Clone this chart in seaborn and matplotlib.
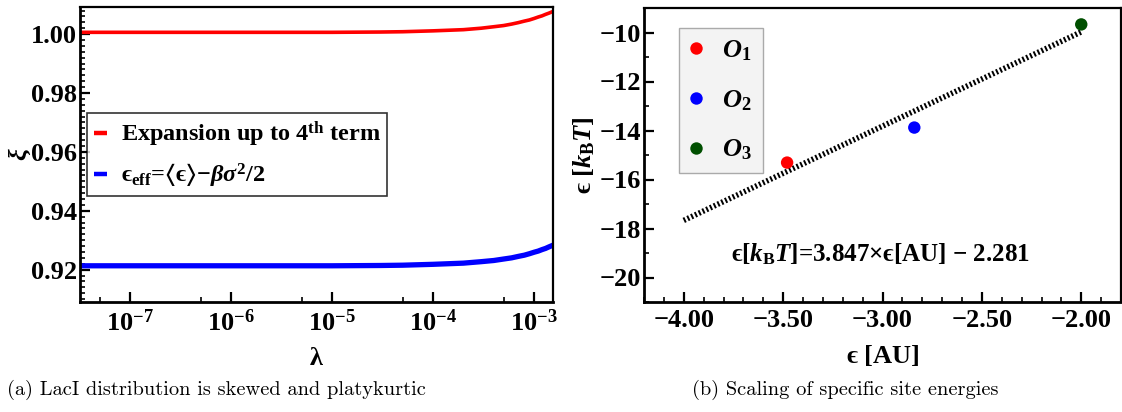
import matplotlib
matplotlib.use("Agg")
import numpy as np
import pandas as pd
import matplotlib.pyplot as plt
import seaborn as sns
from matplotlib.lines import Line2D
from matplotlib.ticker import (FixedLocator, MultipleLocator, NullFormatter,
                               FuncFormatter, LogFormatterSciNotation)

sns.set_theme(style="ticks")
plt.rcParams['font.family'] = ['Liberation Serif', 'DejaVu Serif']
plt.rcParams['font.weight'] = 'bold'
plt.rcParams['axes.labelweight'] = 'bold'
plt.rcParams['text.color'] = 'black'
plt.rcParams['axes.labelcolor'] = 'black'
plt.rcParams['xtick.color'] = 'black'
plt.rcParams['ytick.color'] = 'black'
plt.rcParams['mathtext.fontset'] = 'custom'
plt.rcParams['mathtext.rm'] = 'Liberation Serif:bold'
plt.rcParams['mathtext.it'] = 'Liberation Serif:bold:italic'
plt.rcParams['mathtext.bf'] = 'Liberation Serif:bold'
plt.rcParams['mathtext.fallback'] = 'stix'
plt.rcParams['axes.unicode_minus'] = True

# ---- panel (a): xi versus lambda -------------------------------------
lam = [3.2e-8, 1e-7, 1e-6, 1e-5, 3e-5, 5e-5, 1e-4, 2e-4, 3e-4, 4e-4,
       5e-4, 6e-4, 7e-4, 8e-4, 9e-4, 1e-3, 1.1e-3, 1.2e-3, 1.3e-3, 1.4e-3, 1.54e-3]
xi_expansion = [1.0006, 1.0006, 1.0006, 1.0006, 1.0007, 1.0008, 1.0011, 1.0015,
                1.0020, 1.0025, 1.0029, 1.0034, 1.0039, 1.0044, 1.0048, 1.0053,
                1.0058, 1.0062, 1.0067, 1.0071, 1.0077]
xi_effective = [0.9213, 0.9213, 0.9213, 0.9213, 0.9214, 0.9215, 0.9218, 0.9222,
                0.9227, 0.9231, 0.9236, 0.9240, 0.9245, 0.9249, 0.9254, 0.9259,
                0.9263, 0.9268, 0.9272, 0.9277, 0.9283]
EPS = "\\mathrm{\u03f5}"
series_names = ["Expansion up to 4$^{\\mathrm{th}}$ term",
                "$" + EPS + "_{\\mathrm{eff}}$=$\\langle " + EPS + "\\rangle$$-$$\\beta\\sigma^2$/2"]
series_colors = ["#ff0000", "#0000ff"]

# ---- panel (b): site energies ------------------------------------------
site_labels = [r"$O_1$", r"$O_2$", r"$O_3$"]
eps_au = [-3.48, -2.84, -2.00]
eps_kbt = [-15.31, -13.88, -9.67]
site_colors = ["#ff0000", "#0000ff", "#004f00"]
fit_slope = 3.847
fit_intercept = -2.281
fit_range = [-4.0, -2.0]

TICK = 19
fig = plt.figure(figsize=(11.22, 4.12), dpi=100)
ax1 = fig.add_axes([80 / 1122, 1 - 302 / 412, 473 / 1122, 295 / 412])
ax2 = fig.add_axes([644 / 1122, 1 - 302 / 412, 477 / 1122, 294 / 412])

# panel (a)
df_a = pd.DataFrame({
    "lam": lam * 2,
    "xi": xi_expansion + xi_effective,
    "series": [series_names[0]] * len(lam) + [series_names[1]] * len(lam),
})
sns.lineplot(data=df_a[df_a.series == series_names[0]], x="lam", y="xi",
             color=series_colors[0], lw=2.6, ax=ax1, legend=False)
sns.lineplot(data=df_a[df_a.series == series_names[1]], x="lam", y="xi",
             color=series_colors[1], lw=3.8, ax=ax1, legend=False)
ax1.set_xscale("log")
ax1.set_xlim(3.2e-8, 1.54e-3)
ax1.set_ylim(0.909, 1.0092)
ax1.xaxis.set_major_locator(FixedLocator([1e-7, 1e-6, 1e-5, 1e-4, 1e-3]))
ax1.xaxis.set_major_formatter(LogFormatterSciNotation())
ax1.xaxis.set_minor_locator(FixedLocator([5e-8, 5e-7, 5e-6, 5e-5, 5e-4]))
ax1.xaxis.set_minor_formatter(NullFormatter())
ax1.yaxis.set_major_locator(FixedLocator([0.92, 0.94, 0.96, 0.98, 1.00]))
ax1.yaxis.set_major_formatter(FuncFormatter(lambda v, p: f"{v:.2f}"))
ax1.yaxis.set_minor_locator(MultipleLocator(0.002))
ax1.set_xlabel("λ", fontsize=TICK, fontweight="bold", labelpad=8)
ax1.set_ylabel("ξ", fontsize=TICK, fontstyle="italic", fontweight="bold", labelpad=0)

handles = [Line2D([], [], color=c, lw=3.2, solid_capstyle="butt") for c in series_colors]
leg1 = ax1.legend(handles, series_names, loc="upper left", bbox_to_anchor=(0.015, 0.641),
                  borderaxespad=0, frameon=True, fancybox=False, edgecolor="black",
                  handlelength=0.55, handletextpad=0.55, fontsize=17.5, labelspacing=0.5,
                  borderpad=0.28)
leg1.get_frame().set_linewidth(1.2)

# panel (b)
df_b = pd.DataFrame({"au": eps_au, "kbt": eps_kbt, "site": site_labels})
fit_y = [fit_slope * x + fit_intercept for x in fit_range]
sns.lineplot(x=fit_range, y=fit_y, color="black", lw=4.0, ax=ax2,
             linestyle=(0, (0.35, 0.4)), legend=False)
sns.scatterplot(data=df_b, x="au", y="kbt", hue="site", palette=site_colors,
                s=80, edgecolor="none", ax=ax2, zorder=5)
ax2.set_xlim(-4.2, -1.8)
ax2.set_ylim(-21, -9)
ax2.xaxis.set_major_locator(MultipleLocator(0.5))
ax2.xaxis.set_minor_locator(MultipleLocator(0.1))
ax2.xaxis.set_major_formatter(FuncFormatter(lambda v, p: f"{v:.2f}".replace("-", "\u2212")))
ax2.yaxis.set_major_locator(MultipleLocator(2))
ax2.yaxis.set_minor_locator(MultipleLocator(1))
ax2.yaxis.set_major_formatter(FuncFormatter(lambda v, p: f"{v:.0f}".replace("-", "\u2212")))
ax2.set_xlabel("$" + EPS + "$ [AU]", fontsize=TICK, fontweight="bold", labelpad=8)
ax2.set_ylabel("$" + EPS + "$ [$k_{\\mathrm{B}}T$]", fontsize=TICK, fontweight="bold", labelpad=2)
ax2.text(-3.01, -19.06,
         "$" + EPS + "$[$k_{\\mathrm{B}}T$]=3.847×$" + EPS + "$[AU] $-$ 2.281",
         ha="center", va="center", fontsize=18, fontweight="bold")
leg2 = ax2.legend(loc="upper left", bbox_to_anchor=(0.073, 0.932), borderaxespad=0,
                  frameon=True, fancybox=False, facecolor="#f3f3f3", edgecolor="#aaaaaa",
                  fontsize=19, handletextpad=0.75, labelspacing=0.95, borderpad=0.4,
                  handlelength=0.5, markerscale=1.0, framealpha=1)
leg2.get_frame().set_linewidth(1.0)

for ax in (ax1, ax2):
    ax.tick_params(which="major", direction="in", length=7, width=1.6,
                   labelsize=TICK, top=False, right=False, colors="black")
    ax.tick_params(which="minor", direction="in", length=3.5, width=1.2,
                   top=False, right=False, colors="black")
    ax.tick_params(axis="y", which="major", pad=2)
    ax.tick_params(axis="x", which="major", pad=5)
    for lab in ax.get_xticklabels() + ax.get_yticklabels():
        lab.set_fontweight("bold")
    for side in ("left", "bottom"):
        ax.spines[side].set_linewidth(2.0)
        ax.spines[side].set_color("black")
    for side in ("top", "right"):
        ax.spines[side].set_linewidth(1.6)
        ax.spines[side].set_color("black")

fig.text(216 / 1122, 1 - 390 / 412, "(a) LacI distribution is skewed and platykurtic",
         family="cmr10", fontweight="normal", fontsize=14.7, ha="center", va="center")
fig.text(845 / 1122, 1 - 390 / 412, "(b) Scaling of specific site energies",
         family="cmr10", fontweight="normal", fontsize=14.7, ha="center", va="center")

fig.savefig("out.png", dpi=100)
